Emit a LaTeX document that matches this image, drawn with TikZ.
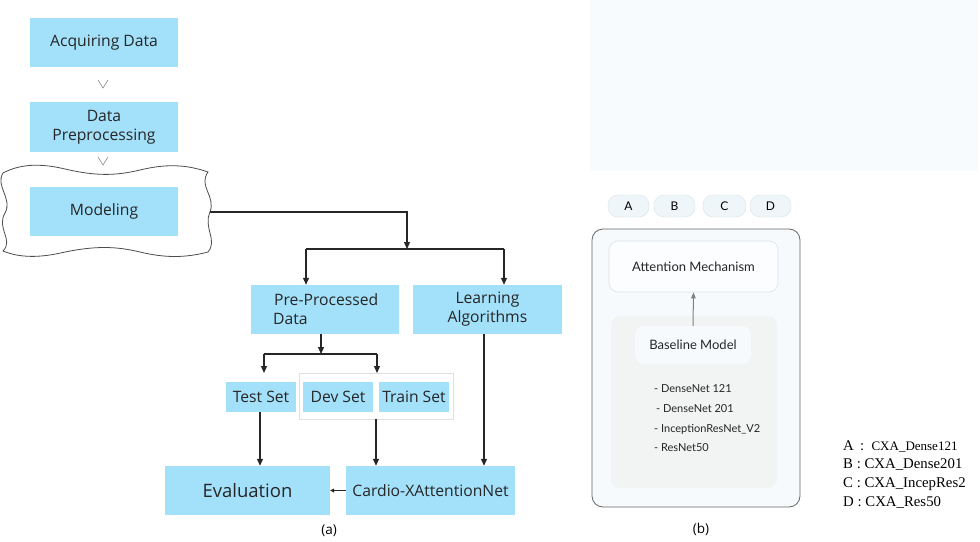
\documentclass[tikz,border=0pt]{standalone}
\usepackage{fontspec}
\setmainfont{Open Sans}
\newfontfamily\rfont{Lato}
\newfontfamily\lfont{Liberation Serif}
\usetikzlibrary{arrows.meta}
\definecolor{boxblue}{HTML}{A3E1FA}
\definecolor{faint}{HTML}{F8FBFD}
\definecolor{panelfill}{HTML}{F6FAFC}
\definecolor{greyarea}{HTML}{F2F3F3}
\definecolor{pillfill}{HTML}{EFF6F9}
\definecolor{pillline}{HTML}{D8E2E6}
\begin{document}
\begin{tikzpicture}[x=1pt,y=-1pt,
  bx/.style={fill=boxblue, draw=none, inner sep=0pt, text=black!85, font=\fontsize{15.7}{19}\selectfont, align=center},
  conn/.style={line width=1.2pt, black!85},
  arr/.style={conn, -{Triangle[length=7pt,width=6pt]}},
  chev/.style={draw=black!45, line width=0.6pt},
  pill/.style={draw=pillline, fill=pillfill, rounded corners=10pt, inner sep=0pt, minimum height=22, font=\rfont\fontsize{12}{14}\selectfont},
  rtext/.style={font=\rfont\fontsize{13}{15}\selectfont, text=black!85},
  ltext/.style={font=\rfont\fontsize{11}{13}\selectfont, text=black!85, anchor=west, inner sep=0pt},
  leg/.style={font=\lfont\fontsize{14.8}{17}\selectfont, anchor=west, inner sep=0pt}]
\useasboundingbox (0,0) rectangle (980,541);
\fill[white] (0,0) rectangle (980,541);
% faint top-right rectangle
\fill[faint] (590,0) rectangle (978,171);

% ---------- (a) ----------
% wavy frame
\draw[black!70, line width=0.8pt, fill=white]
  (3,173) .. controls (20,164) and (40,163) .. (65,169)
  .. controls (95,176) and (115,176) .. (140,170)
  .. controls (165,164) and (185,164) .. (208,172)
  .. controls (198,186) and (216,196) .. (210,212)
  .. controls (203,228) and (218,240) .. (208,252)
  .. controls (185,258) and (165,258) .. (140,252)
  .. controls (115,246) and (95,246) .. (65,252)
  .. controls (40,258) and (20,258) .. (3,251)
  .. controls (14,240) and (-4,228) .. (5,213)
  .. controls (13,199) and (-5,186) .. (3,173) -- cycle;
\coordinate (waveR) at (210,212);

\node[bx, minimum width=148, minimum height=49] (acq) at (104,42.5) {Acquiring Data};
\node[bx, minimum width=148, minimum height=50] (prep) at (104,127) {Data\\Preprocessing};
\node[bx, minimum width=148, minimum height=49] (model) at (104,211.5) {Modeling};

\coordinate (c1) at (103,88);
\coordinate (c2) at (103,165);
\draw[chev] ([shift={(-5,-8)}]c1) -- (c1) -- ([shift={(5,-8)}]c1);
\draw[chev] ([shift={(-5,-8)}]c2) -- (c2) -- ([shift={(5,-8)}]c2);

\node[bx, minimum width=148, minimum height=49] (ppd) at (325,309.5) {};
\node[font=\fontsize{15.7}{19}\selectfont, align=left, inner sep=0pt, anchor=west, text=black!85] (ppdtxt) at (273,309.5) {\hspace*{1pt}Pre-Processed\\Data};
\node[bx, minimum width=149, minimum height=49] (learn) at (487.5,309.5) {Learning\\Algorithms};

\draw[draw=black!12, line width=0.7pt, fill=white] (299,373) rectangle (453,419);
\coordinate (frameS) at (376,419);
\node[bx, minimum width=70, minimum height=30] (test) at (261,397) {Test Set};
\node[bx, minimum width=70, minimum height=30] (dev) at (338,397) {Dev Set};
\node[bx, minimum width=70, minimum height=30] (train) at (414,397) {Train Set};

\node[bx, minimum width=165, minimum height=49, font=\fontsize{18.5}{22}\selectfont] (eval) at (247.5,490.5) {Evaluation};
\node[bx, minimum width=169, minimum height=49] (cardio) at (430.5,490.5) {Cardio-XAttentionNet};

% connectors
\coordinate (s1) at (407,249);
\draw[arr] (waveR) -| (s1);
\draw[conn] (306,249) -- (504,249);
\draw[arr] (306,249) -- (ppd.north -| 306,0);
\draw[arr] (504,249) -- (learn.north -| 504,0);
\coordinate (s2) at (321,354);
\draw[arr] (ppd.south -| s2) -- (s2);
\draw[conn] (264,354) -- (377,354);
\draw[arr] (264,354) -- (264,373);
\draw[arr] (377,354) -- (377,373);
\draw[arr] (test.south -| 260,0) -- (eval.north -| 260,0);
\draw[arr] (frameS) -- (cardio.north -| frameS);
\draw[arr] (learn.south -| 484,0) -- (cardio.north -| 484,0);
\draw[line width=0.9pt, black!85, -{Triangle[length=4pt,width=4pt]}] (cardio.west) -- (eval.east);

\node[font=\fontsize{13.5}{15}\selectfont, inner sep=0pt] (la) at (329,531) {(a)};

% ---------- (b) ----------
\node[draw=black!60, line width=0.8pt, fill=panelfill, rounded corners=11pt, minimum width=208, minimum height=278, inner sep=0pt] (panel) at (696,368) {};
\node[pill, minimum width=41] (pA) at (628.5,206) {A};
\node[pill, minimum width=41] (pB) at (674.5,206) {B};
\node[pill, minimum width=43] (pC) at (724.5,206) {C};
\node[pill, minimum width=41] (pD) at (770.5,206) {D};

\node[draw=pillline, line width=0.6pt, fill=white!60!panelfill, rounded corners=9pt, minimum width=169, minimum height=51, inner sep=0pt, rtext] (att) at (693.5,266.5) {Attention Mechanism};
\node[fill=greyarea, rounded corners=9pt, minimum width=166, minimum height=172, inner sep=0pt] (grey) at (694,402) {};
\node[fill=panelfill, rounded corners=9pt, minimum width=116, minimum height=38, inner sep=0pt, rtext] (base) at (693,345) {Baseline Model};
\draw[black!50, line width=1pt, -{Triangle[length=6pt,width=4.5pt]}] (base.north) -- (att.south);

\node[ltext] (m1) at (654,389) {- DenseNet 121};
\node[ltext] (m2) at (656,409) {- DenseNet 201};
\node[ltext] (m3) at (654,429) {- InceptionResNet\_V2};
\node[ltext] (m4) at (654,448) {- ResNet50};

\node[font=\fontsize{13.5}{15}\selectfont, inner sep=0pt] (lb) at (701,529) {(b)};

% legend
\node[leg] (lgA) at (843,446) {A\, :\ \ {\fontsize{13}{15}\selectfont CXA\_Dense121}};
\node[leg] (lgB) at (843,465) {B : CXA\_Dense201};
\node[leg] (lgC) at (843,484) {C : CXA\_IncepRes2};
\node[leg] (lgD) at (843,503) {D : CXA\_Res50};
\end{tikzpicture}
\end{document}
